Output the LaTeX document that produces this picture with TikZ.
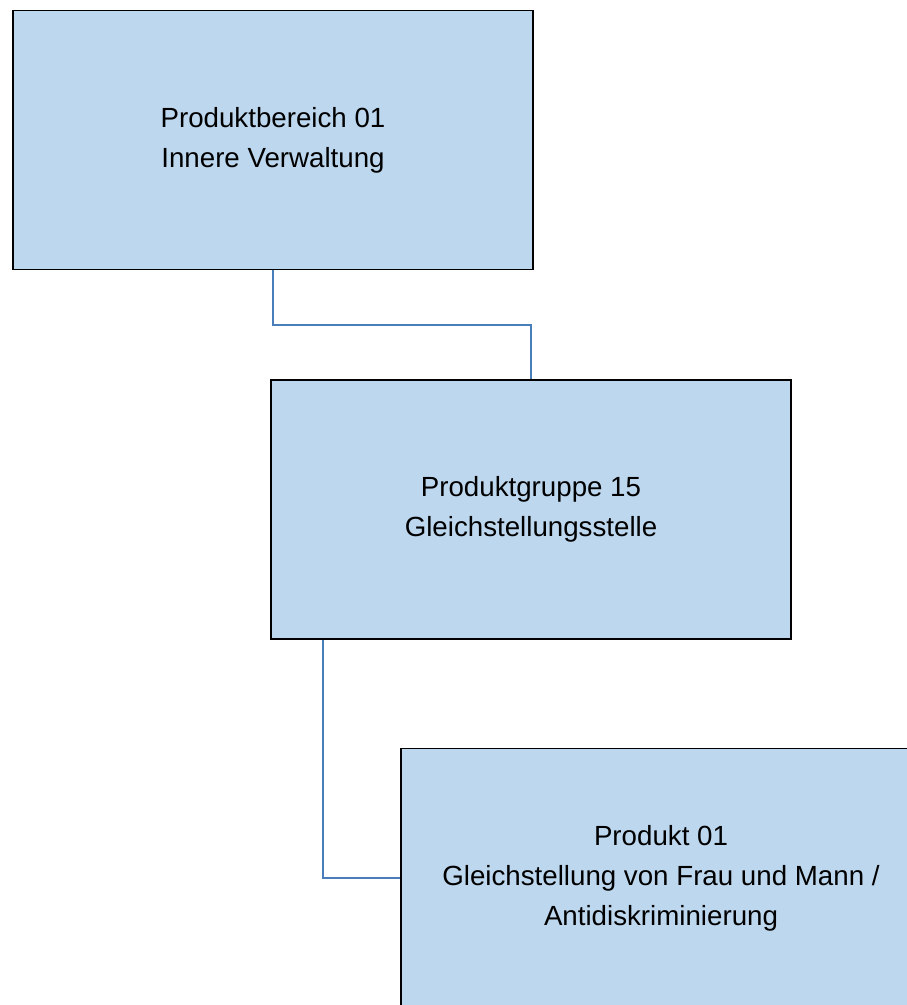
\documentclass[tikz,border=0pt]{standalone}
\usepackage{fontspec}
\setmainfont{Liberation Sans}
\definecolor{boxfill}{RGB}{189,215,238}
\definecolor{linkblue}{RGB}{74,126,187}
\begin{document}
\begin{tikzpicture}[x=1pt,y=-1pt,
  orgbox/.style={draw=black,line width=1.6pt,fill=boxfill,minimum width=520pt,minimum height=259pt,
    align=center,inner sep=0pt,font=\fontsize{27.7}{40}\selectfont},
  link/.style={draw=linkblue,line width=1.6pt}]
\useasboundingbox (0,0) rectangle (907,1005);
\clip (0,0) rectangle (907,1005);
\fill[white] (0,0) rectangle (907,1005);
\node[orgbox] (pb) at (273,140) {Produktbereich 01\\Innere Verwaltung};
\node[orgbox] (pg) at (531,509.5) {Produktgruppe 15\\Gleichstellungsstelle};
\node[orgbox] (pr) at (661,878) {Produkt 01\\Gleichstellung von Frau und Mann /\\Antidiskriminierung};
\coordinate (m1) at (273,325);
\coordinate (s2) at (323,639.5);
\draw[link] (pb.south) -- (m1) -| (pg.north);
\draw[link] (s2) |- (pr.west);
\end{tikzpicture}
\end{document}
